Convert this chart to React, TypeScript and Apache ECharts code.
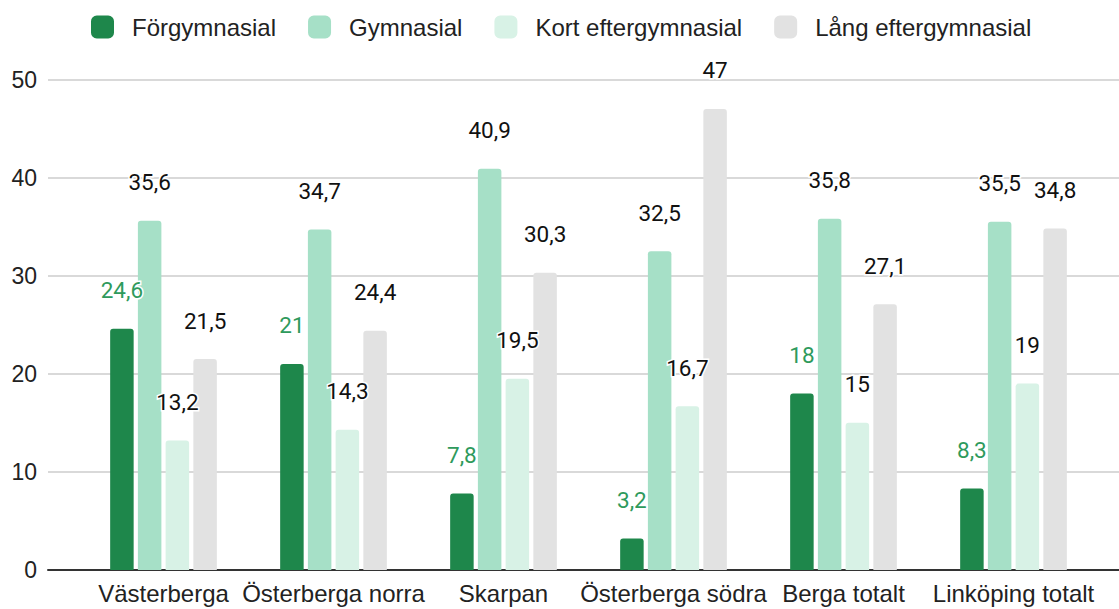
import React, { useEffect, useRef } from "react";
import * as echarts from "echarts";

const categories = [
  "Västerberga",
  "Österberga norra",
  "Skarpan",
  "Österberga södra",
  "Berga totalt",
  "Linköping totalt",
];
const seriesNames = [
  "Förgymnasial",
  "Gymnasial",
  "Kort eftergymnasial",
  "Lång eftergymnasial",
];
const forgymnasial = [24.6, 21, 7.8, 3.2, 18, 8.3];
const gymnasial = [35.6, 34.7, 40.9, 32.5, 35.8, 35.5];
const kortEftergymnasial = [13.2, 14.3, 19.5, 16.7, 15, 19];
const langEftergymnasial = [21.5, 24.4, 30.3, 47, 27.1, 34.8];
const yMin = 0;
const yMax = 50;
const yInterval = 10;

const colors = ["#1e874b", "#a6e0c7", "#d8f2e6", "#e2e2e2"];
const labelColors = ["#2e9a5c", "#111111", "#111111", "#111111"];
const AXIS_FONT = "'Liberation Sans', Arial, sans-serif";
const LABEL_FONT = "Roboto";

export default function App() {
  const ref = useRef<HTMLDivElement>(null);
  useEffect(() => {
    if (!ref.current) return;
    const chart = echarts.init(ref.current, undefined, { renderer: "svg" });
    const values = [forgymnasial, gymnasial, kortEftergymnasial, langEftergymnasial];
    const gridTop = 79.5;
    const gridBottom = 39;
    chart.setOption({
      animation: false,
      textStyle: { fontFamily: AXIS_FONT },
      legend: {
        left: 91,
        top: 15,
        padding: 0,
        itemWidth: 23,
        itemHeight: 23,
        itemGap: 32,
        icon: "roundRect",
        data: seriesNames,
        textStyle: {
          fontFamily: AXIS_FONT,
          fontSize: 24,
          color: "#222",
          padding: [0, 0, 0, 13],
        },
      },
      grid: [
        { left: 48, right: 0, top: gridTop, bottom: gridBottom },
        { left: 78.5, right: 20.5, top: gridTop, bottom: gridBottom },
      ],
      xAxis: [
        {
          gridIndex: 0,
          type: "category",
          data: categories,
          axisLine: { show: true, lineStyle: { color: "#333", width: 2 } },
          axisTick: { show: false },
          axisLabel: { show: false },
          splitLine: { show: false },
        },
        {
          gridIndex: 1,
          type: "category",
          data: categories,
          axisLine: { show: false },
          axisTick: { show: false },
          axisLabel: {
            interval: 0,
            hideOverlap: false,
            fontFamily: AXIS_FONT,
            fontSize: 24,
            color: "#222",
            margin: 11,
          },
        },
      ],
      yAxis: [
        {
          gridIndex: 0,
          type: "value",
          min: yMin,
          max: yMax,
          interval: yInterval,
          axisLine: { show: false },
          axisTick: { show: false },
          axisLabel: {
            fontFamily: AXIS_FONT,
            fontSize: 23,
            color: "#222",
            margin: 11,
          },
          splitLine: { lineStyle: { color: "#cccccc", width: 1.5 } },
        },
        {
          gridIndex: 1,
          type: "value",
          min: yMin,
          max: yMax,
          interval: yInterval,
          show: false,
        },
      ],
      series: seriesNames.map((name, i) => ({
        name,
        type: "bar",
        xAxisIndex: 1,
        yAxisIndex: 1,
        data: values[i],
        barWidth: 23.5,
        barGap: "18%",
        itemStyle: { color: colors[i], borderRadius: [3, 3, 0, 0] },
        label: {
          show: true,
          position: "top",
          distance: 27,
          fontFamily: LABEL_FONT,
          fontSize: 22.5,
          color: labelColors[i],
          textBorderColor: "#fff",
          textBorderWidth: 3,
          formatter: (p: any) => String(p.value).replace(".", ","),
        },
      })),
    });
    return () => chart.dispose();
  }, []);
  return (
    <div
      ref={ref}
      style={{ position: "fixed", left: 0, top: 0, width: 1119, height: 609, background: "#fff" }}
    />
  );
}
